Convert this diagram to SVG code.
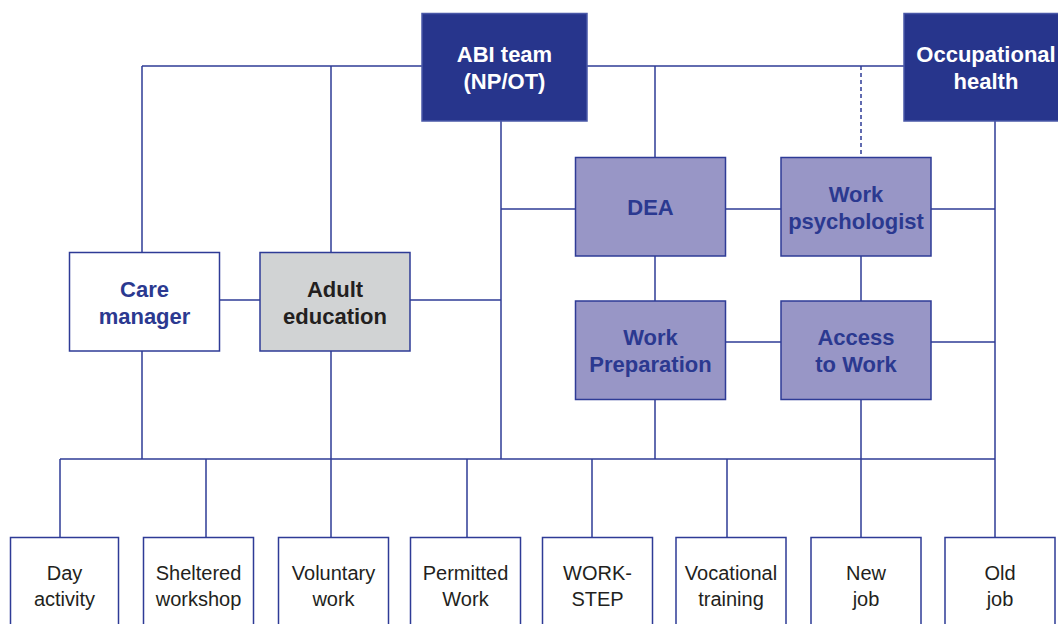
<svg xmlns="http://www.w3.org/2000/svg" width="1058" height="624" viewBox="0 0 1058 624">
<style>
.ln{stroke:#2e3b96;stroke-width:1.5;fill:none}
.dash{stroke:#2e3b96;stroke-width:1.5;fill:none;stroke-dasharray:4,3}
.dark{fill:#27358c;stroke:#4a58a8;stroke-width:1.5}
.mid{fill:#9896c6;stroke:#2e3b96;stroke-width:1.5}
.white{fill:#ffffff;stroke:#2e3b96;stroke-width:1.5}
.gray{fill:#d1d3d4;stroke:#2e3b96;stroke-width:1.5}
.tw{font-family:"Liberation Sans",Arial,sans-serif;font-weight:bold;font-size:22px;fill:#ffffff;text-anchor:middle}
.tb{font-family:"Liberation Sans",Arial,sans-serif;font-weight:bold;font-size:22px;fill:#2b3990;text-anchor:middle}
.tk{font-family:"Liberation Sans",Arial,sans-serif;font-weight:bold;font-size:22px;fill:#231f20;text-anchor:middle}
.tr{font-family:"Liberation Sans",Arial,sans-serif;font-size:20px;fill:#231f20;text-anchor:middle}
</style>
<rect width="1058" height="624" fill="#ffffff"/>
<g id="connectors">
<path class="ln" d="M142,66 H904"/>
<path class="ln" d="M142,66 V252"/>
<path class="ln" d="M331,66 V252"/>
<path class="ln" d="M655,66 V157"/>
<path class="dash" d="M861,66 V157"/>
<path class="ln" d="M501,121 V459"/>
<path class="ln" d="M995,121 V537"/>
<path class="ln" d="M931,209 H995"/>
<path class="ln" d="M931,342 H995"/>
<path class="ln" d="M725,209 H781"/>
<path class="ln" d="M861,256 V301"/>
<path class="ln" d="M861,400 V537"/>
<path class="ln" d="M655,256 V301"/>
<path class="ln" d="M655,400 V459"/>
<path class="ln" d="M725,342 H781"/>
<path class="ln" d="M219,300 H260"/>
<path class="ln" d="M410,300 H501"/>
<path class="ln" d="M501,209 H575"/>
<path class="ln" d="M142,351 V459"/>
<path class="ln" d="M331,351 V537"/>
<path class="ln" d="M60,459 H995"/>
<path class="ln" d="M60,459 V537"/>
<path class="ln" d="M206,459 V537"/>
<path class="ln" d="M467,459 V537"/>
<path class="ln" d="M592,459 V537"/>
<path class="ln" d="M727,459 V537"/>
</g>
<g id="abi"><rect class="dark" x="422" y="13.5" width="165" height="107.5"/><text class="tw" x="504.5" y="62">ABI team</text><text class="tw" x="504.5" y="89">(NP/OT)</text></g>
<g id="occ"><rect class="dark" x="904" y="13.5" width="160" height="107.5"/><text class="tw" x="986" y="62">Occupational</text><text class="tw" x="986" y="89">health</text></g>
<g id="care"><rect class="white" x="69.5" y="252.5" width="150" height="98.5"/><text class="tb" x="144.5" y="297">Care</text><text class="tb" x="144.5" y="324">manager</text></g>
<g id="adult"><rect class="gray" x="260" y="252.5" width="150" height="98.5"/><text class="tk" x="335" y="297">Adult</text><text class="tk" x="335" y="324">education</text></g>
<g id="dea"><rect class="mid" x="575.5" y="157.5" width="150" height="98.5"/><text class="tb" x="650.5" y="215">DEA</text></g>
<g id="wpsy"><rect class="mid" x="781" y="157.5" width="150" height="98.5"/><text class="tb" x="856" y="202">Work</text><text class="tb" x="856" y="229">psychologist</text></g>
<g id="wprep"><rect class="mid" x="575.5" y="301" width="150" height="98.5"/><text class="tb" x="650.5" y="345">Work</text><text class="tb" x="650.5" y="372">Preparation</text></g>
<g id="atw"><rect class="mid" x="781" y="301" width="150" height="98.5"/><text class="tb" x="856" y="345">Access</text><text class="tb" x="856" y="372">to Work</text></g>
<g id="day"><rect class="white" x="10.5" y="537.5" width="108" height="100"/><text class="tr" x="64.5" y="580">Day</text><text class="tr" x="64.5" y="606">activity</text></g>
<g id="shelt"><rect class="white" x="143.5" y="537.5" width="110" height="100"/><text class="tr" x="198.5" y="580">Sheltered</text><text class="tr" x="198.5" y="606">workshop</text></g>
<g id="vol"><rect class="white" x="278.5" y="537.5" width="110" height="100"/><text class="tr" x="333.5" y="580">Voluntary</text><text class="tr" x="333.5" y="606">work</text></g>
<g id="perm"><rect class="white" x="410.5" y="537.5" width="110" height="100"/><text class="tr" x="465.5" y="580">Permitted</text><text class="tr" x="465.5" y="606">Work</text></g>
<g id="ws"><rect class="white" x="542.5" y="537.5" width="110" height="100"/><text class="tr" x="597.5" y="580">WORK-</text><text class="tr" x="597.5" y="606">STEP</text></g>
<g id="voc"><rect class="white" x="676" y="537.5" width="110" height="100"/><text class="tr" x="731" y="580">Vocational</text><text class="tr" x="731" y="606">training</text></g>
<g id="new"><rect class="white" x="811" y="537.5" width="110" height="100"/><text class="tr" x="866" y="580">New</text><text class="tr" x="866" y="606">job</text></g>
<g id="old"><rect class="white" x="945" y="537.5" width="110" height="100"/><text class="tr" x="1000" y="580">Old</text><text class="tr" x="1000" y="606">job</text></g>
</svg>
